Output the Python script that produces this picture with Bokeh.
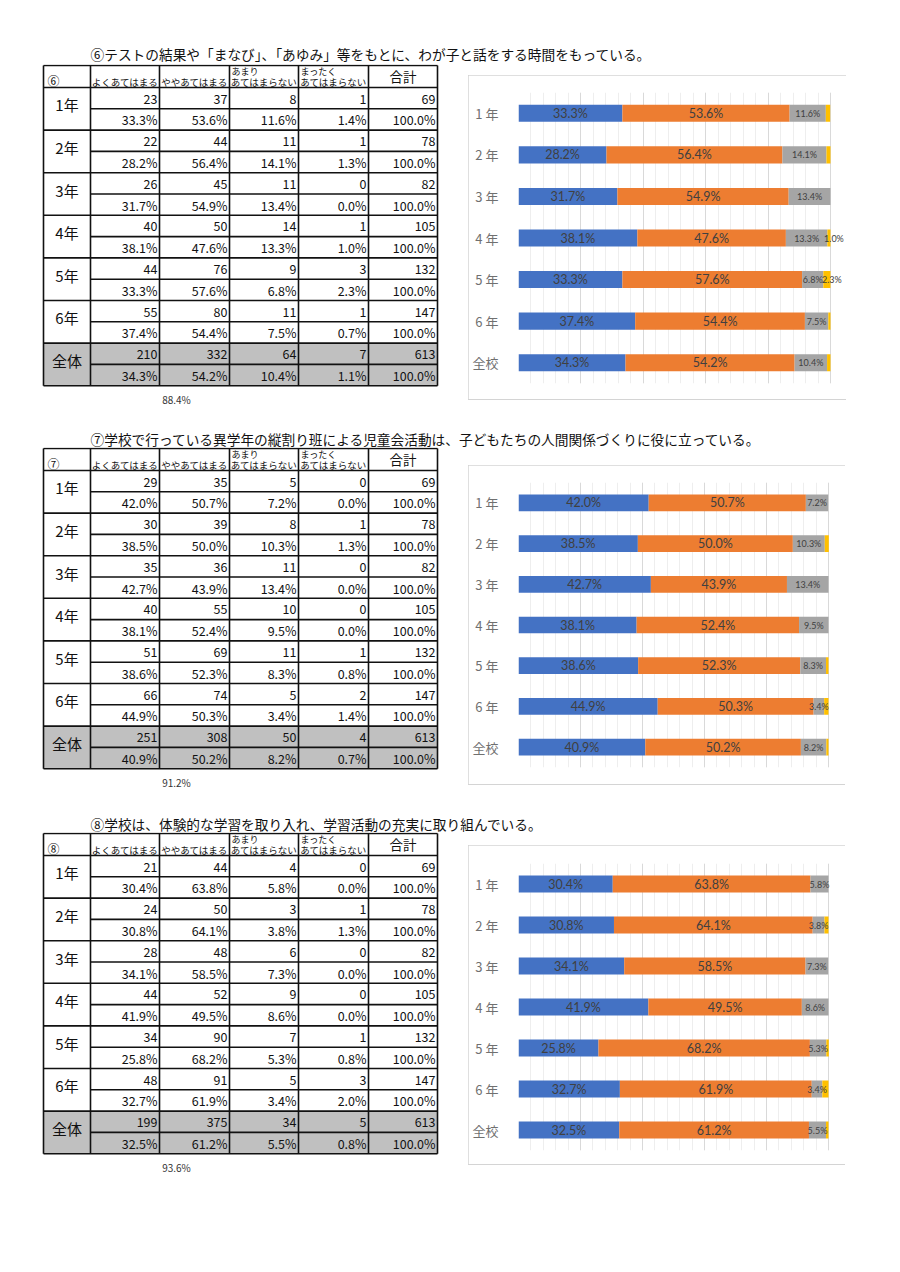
from bokeh.plotting import figure
from bokeh.models import Range1d, FactorRange, ColumnDataSource, SingleIntervalTicker, Spacer
from bokeh.layouts import column, row
from bokeh.core.properties import value
from bokeh.embed import file_html
from bokeh.resources import INLINE

# ---------------- data ----------------
grades = ["1年", "2年", "3年", "4年", "5年", "6年", "全体"]
chart_cats = ["1 年", "2 年", "3 年", "4 年", "5 年", "6 年", "全校"]
col_headers = [["よくあてはまる"], ["ややあてはまる"], ["あまり", "あてはまらない"], ["まったく", "あてはまらない"]]
total_header = "合計"

q6_mark = "⑥"
q6_title = "⑥テストの結果や「まなび」、「あゆみ」等をもとに、わが子と話をする時間をもっている。"
q6_yoku = [23, 22, 26, 40, 44, 55, 210]
q6_yaya = [37, 44, 45, 50, 76, 80, 332]
q6_amari = [8, 11, 11, 14, 9, 11, 64]
q6_mattaku = [1, 1, 0, 1, 3, 1, 7]
q6_total = [69, 78, 82, 105, 132, 147, 613]
q6_yoku_pct = [33.3, 28.2, 31.7, 38.1, 33.3, 37.4, 34.3]
q6_yaya_pct = [53.6, 56.4, 54.9, 47.6, 57.6, 54.4, 54.2]
q6_amari_pct = [11.6, 14.1, 13.4, 13.3, 6.8, 7.5, 10.4]
q6_mattaku_pct = [1.4, 1.3, 0.0, 1.0, 2.3, 0.7, 1.1]
q6_mattaku_labels = ["", "", "", "1.0%", "2.3%", "", ""]
q6_summary = "88.4%"

q7_mark = "⑦"
q7_title = "⑦学校で行っている異学年の縦割り班による児童会活動は、子どもたちの人間関係づくりに役に立っている。"
q7_yoku = [29, 30, 35, 40, 51, 66, 251]
q7_yaya = [35, 39, 36, 55, 69, 74, 308]
q7_amari = [5, 8, 11, 10, 11, 5, 50]
q7_mattaku = [0, 1, 0, 0, 1, 2, 4]
q7_total = [69, 78, 82, 105, 132, 147, 613]
q7_yoku_pct = [42.0, 38.5, 42.7, 38.1, 38.6, 44.9, 40.9]
q7_yaya_pct = [50.7, 50.0, 43.9, 52.4, 52.3, 50.3, 50.2]
q7_amari_pct = [7.2, 10.3, 13.4, 9.5, 8.3, 3.4, 8.2]
q7_mattaku_pct = [0.0, 1.3, 0.0, 0.0, 0.8, 1.4, 0.7]
q7_mattaku_labels = ["", "", "", "", "", "", ""]
q7_summary = "91.2%"

q8_mark = "⑧"
q8_title = "⑧学校は、体験的な学習を取り入れ、学習活動の充実に取り組んでいる。"
q8_yoku = [21, 24, 28, 44, 34, 48, 199]
q8_yaya = [44, 50, 48, 52, 90, 91, 375]
q8_amari = [4, 3, 6, 9, 7, 5, 34]
q8_mattaku = [0, 1, 0, 0, 1, 3, 5]
q8_total = [69, 78, 82, 105, 132, 147, 613]
q8_yoku_pct = [30.4, 30.8, 34.1, 41.9, 25.8, 32.7, 32.5]
q8_yaya_pct = [63.8, 64.1, 58.5, 49.5, 68.2, 61.9, 61.2]
q8_amari_pct = [5.8, 3.8, 7.3, 8.6, 5.3, 3.4, 5.5]
q8_mattaku_pct = [0.0, 1.3, 0.0, 0.0, 0.8, 2.0, 0.8]
q8_mattaku_labels = ["", "", "", "", "", "", ""]
q8_summary = "93.6%"

# ---------------- style ----------------
JP = "Noto Sans CJK JP"
NUM = "Noto Sans CJK JP"
LAB = "Lato"
COLS = [43, 90, 159, 229, 298, 368, 437]
COLORS = ["#4472C4", "#ED7D31", "#A5A5A5", "#FFC000"]
BOX = "#d4d4d4"
HEAD_H = 22
ROW_H = 21.3
TABLE_W = 468


def bare(p):
    p.xgrid.visible = False
    p.ygrid.visible = False
    p.outline_line_color = None
    p.background_fill_color = "white"
    p.border_fill_color = "white"


def make_title(text, top, bottom, yc):
    p = figure(width=848, height=bottom - top, x_range=Range1d(0, 848), y_range=Range1d(bottom, top),
               output_backend="svg", toolbar_location=None, min_border=0,
               x_axis_location=None, y_axis_location=None)
    bare(p)
    p.text(x=[90], y=[yc], text=[text], text_font=value(JP), text_font_size="13.7px",
           text_baseline="middle", text_align="left", text_color="#111111")
    return p


def make_table(mark, counts, pcts, summary, top, bottom, y0):
    p = figure(width=TABLE_W, height=bottom - top, x_range=Range1d(0, TABLE_W), y_range=Range1d(bottom, top),
               output_backend="svg", toolbar_location=None, min_border=0,
               x_axis_location=None, y_axis_location=None)
    bare(p)
    n = len(grades)
    hb = y0 + HEAD_H
    yb = hb + 2 * n * ROW_H
    p.quad(left=COLS[0], right=COLS[-1], top=hb + 2 * (n - 1) * ROW_H, bottom=yb,
           fill_color="#c0c0c0", line_color=None)
    xs, ys = [], []
    for yy in [y0, hb] + [hb + 2 * g * ROW_H for g in range(1, n + 1)]:
        xs.append([COLS[0], COLS[-1]]); ys.append([yy, yy])
    for g in range(n):
        yy = hb + (2 * g + 1) * ROW_H
        xs.append([COLS[1], COLS[-1]]); ys.append([yy, yy])
    for xx in COLS:
        xs.append([xx, xx]); ys.append([y0, yb])
    p.multi_line(xs, ys, line_color="#111111", line_width=1.6)
    p.text(x=[COLS[0] + 4], y=[y0 + 15], text=[mark], text_font=value(JP), text_font_size="12px",
           text_baseline="middle", text_align="left", text_color="#111111")
    for j, hd in enumerate(col_headers):
        cx = (COLS[j + 1] + COLS[j + 2]) / 2
        if len(hd) == 1:
            p.text(x=[cx], y=[y0 + 16], text=[hd[0]], text_font=value(JP), text_font_size="9.5px",
                   text_baseline="middle", text_align="center", text_color="#111111")
        else:
            p.text(x=[COLS[j + 1] + 2], y=[y0 + 6], text=[hd[0]], text_font=value(JP),
                   text_font_size="9px", text_baseline="middle", text_align="left", text_color="#111111")
            p.text(x=[cx], y=[y0 + 16], text=[hd[1]], text_font=value(JP), text_font_size="9.5px",
                   text_baseline="middle", text_align="center", text_color="#111111")
    p.text(x=[(COLS[5] + COLS[6]) / 2], y=[y0 + 10.5], text=[total_header], text_font=value(JP),
           text_font_size="13.5px", text_baseline="middle", text_align="center", text_color="#111111")
    p.text(x=[(COLS[0] + COLS[1]) / 2] * n, y=[hb + (2 * g + 1) * ROW_H - 4 for g in range(n)],
           text=grades, text_font=value(JP), text_font_size="15px",
           text_baseline="middle", text_align="center", text_color="#111111")
    tx, ty, tt = [], [], []
    for g in range(n):
        for j in range(5):
            tx.append(COLS[j + 2] - 2)
            ty.append(hb + (2 * g + 0.5) * ROW_H + 0.5)
            tt.append(str(counts[j][g]))
            tx.append(COLS[j + 2] - 2)
            ty.append(hb + (2 * g + 1.5) * ROW_H + 0.5)
            tt.append(f"{pcts[j][g]:.1f}%" if j < 4 else "100.0%")
    p.text(x=tx, y=ty, text=tt, text_font=value(NUM), text_font_size="12.5px",
           text_baseline="middle", text_align="right", text_color="#111111")
    p.text(x=[176], y=[yb + 14], text=[summary], text_font=value(NUM), text_font_size="10px",
           text_baseline="middle", text_align="center", text_color="#333333")
    return p


def make_chart(pcts, yellow_labels, w, h, mt, mb, unit_px):
    factors = list(reversed(chart_cats))
    frame_w = w - 50 - 2
    p = figure(width=w, height=h, x_range=Range1d(0, frame_w / unit_px), y_range=FactorRange(factors=factors),
               x_axis_location=None, output_backend="svg", toolbar_location=None,
               min_border_left=50, min_border_right=2, min_border_top=mt, min_border_bottom=mb)
    p.outline_line_color = None
    p.styles = {"outline": f"1px solid {BOX}", "outline-offset": "-1px"}
    p.ygrid.grid_line_color = None
    g = p.xgrid[0]
    g.axis = None
    g.bounds = (0, 1)
    g.ticker = SingleIntervalTicker(interval=0.2, num_minor_ticks=5)
    g.grid_line_color = "#d9d9d9"
    g.minor_grid_line_color = "#eeeeee"
    ya = p.yaxis[0]
    ya.axis_line_color = None
    ya.major_tick_line_color = None
    ya.minor_tick_line_color = None
    ya.major_label_text_font = JP
    ya.major_label_text_font_size = "13px"
    ya.major_label_text_color = "#707070"
    ya.major_label_standoff = 14

    a, b, c, d = [[v / 100 for v in s] for s in pcts]
    src = ColumnDataSource(dict(cat=chart_cats, a=a, b=b, c=c, d=d))
    p.hbar_stack(["a", "b", "c", "d"], y="cat", height=0.41, color=COLORS, line_color=None, source=src)

    xa = [v / 2 for v in a]
    xb = [a[i] + b[i] / 2 for i in range(len(a))]
    xc = [a[i] + b[i] + c[i] / 2 for i in range(len(a))]
    xd = [a[i] + b[i] + c[i] + d[i] / 2 for i in range(len(a))]
    lab = ColumnDataSource(dict(
        cat=chart_cats, xa=xa, xb=xb, xc=xc, xd=xd,
        ta=[f"{v:.1f}%" for v in pcts[0]], tb=[f"{v:.1f}%" for v in pcts[1]],
        tc=[f"{v:.1f}%" for v in pcts[2]], td=yellow_labels))
    for xk, tk, fs, off in [("xa", "ta", "12.5px", 0), ("xb", "tb", "12.5px", 0),
                            ("xc", "tc", "9px", 0), ("xd", "td", "9px", 5)]:
        p.text(x=xk, y="cat", text=tk, source=lab, text_font=value(LAB), text_font_size=fs,
               text_align="center", text_baseline="middle", text_color="#404040", x_offset=off)
    return p


def section(mark, title, counts, pcts, ylabels, summary,
            t_top, t_bot, t_yc, r_top, r_bot, y0, sp, cw, ch, mt, mb, unit_px):
    tf = make_title(title, t_top, t_bot, t_yc)
    tb = make_table(mark, counts, pcts, summary, r_top, r_bot, y0)
    cf = make_chart(pcts, ylabels, cw, ch - 1, mt, mb - 1, unit_px)
    base = Spacer(width=cw, height=1, styles={"background-color": BOX})
    return tf, row(tb, column(Spacer(width=cw, height=sp), cf, base))


s1 = section(q6_mark, q6_title,
             [q6_yoku, q6_yaya, q6_amari, q6_mattaku, q6_total],
             [q6_yoku_pct, q6_yaya_pct, q6_amari_pct, q6_mattaku_pct], q6_mattaku_labels, q6_summary,
             0, 64, 53.5, 64, 426, 65, 11, 378, 325, 17, 17, 312)
s2 = section(q7_mark, q7_title,
             [q7_yoku, q7_yaya, q7_amari, q7_mattaku, q7_total],
             [q7_yoku_pct, q7_yaya_pct, q7_amari_pct, q7_mattaku_pct], q7_mattaku_labels, q7_summary,
             426, 447, 438, 447, 813, 448, 18, 377, 320, 17, 18, 310)
s3 = section(q8_mark, q8_title,
             [q8_yoku, q8_yaya, q8_amari, q8_mattaku, q8_total],
             [q8_yoku_pct, q8_yaya_pct, q8_amari_pct, q8_mattaku_pct], q8_mattaku_labels, q8_summary,
             813, 832, 823, 832, 1180, 833, 13, 377, 320, 18, 15, 310)

page = column(*s1, *s2, *s3)
open("out.html", "w").write(file_html(page, INLINE))
